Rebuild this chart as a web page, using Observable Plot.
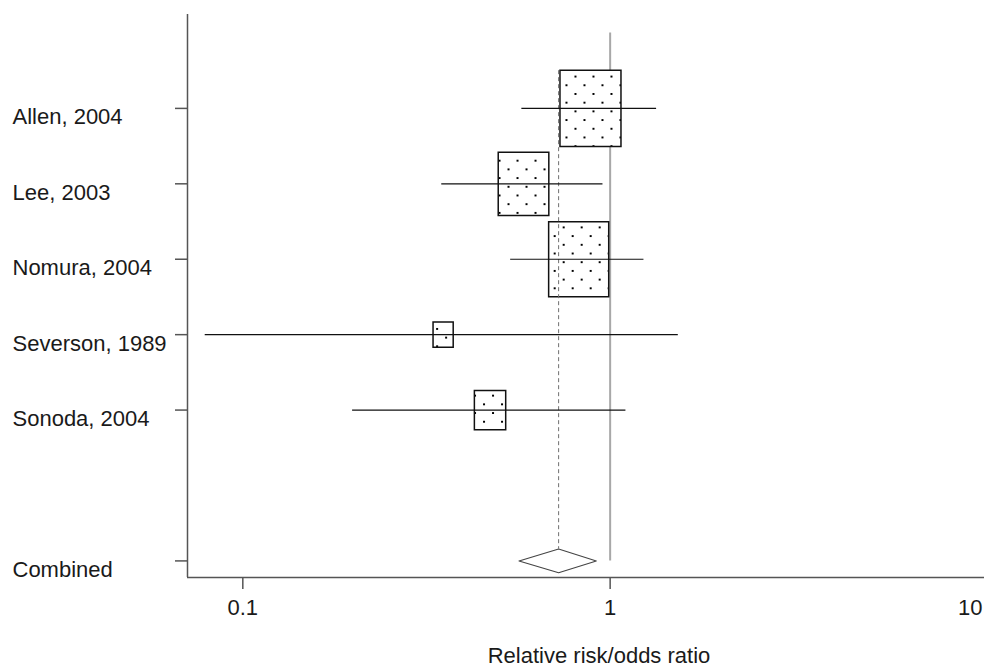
<!DOCTYPE html>
<html>
<head>
<meta charset="utf-8">
<script src="https://cdn.jsdelivr.net/npm/d3@7"></script>
<script src="https://cdn.jsdelivr.net/npm/@observablehq/plot@0.6"></script>
<style>
  html, body { margin: 0; padding: 0; background: #fff; }
  #chart svg { display: block; }
</style>
</head>
<body>
<div id="chart"></div>
<script>
// ---- Data ----
const studies  = ["Allen, 2004", "Lee, 2003", "Nomura, 2004", "Severson, 1989", "Sonoda, 2004"];
const estimate = [0.884, 0.581, 0.821, 0.351, 0.471];
const lower    = [0.575, 0.348, 0.536, 0.079, 0.199];
const upper    = [1.338, 0.956, 1.236, 1.533, 1.104];
const weight   = [33.0, 22.7, 32.0, 3.6, 8.7];   // % weights (box area)

const combinedLabel = "Combined";
const combinedEst = 0.724;
const combinedLo  = 0.565;
const combinedHi  = 0.917;

const xTicks      = [0.1, 1, 10];
const xTickLabels = ["0.1", "1", "10"];
const xTitle      = "Relative risk/odds ratio";

// ---- Derived tables ----
const rows = studies.map((d, i) => i + 1);
const combinedRow = studies.length + 2;
const table = studies.map((s, i) => ({
  study: s, row: rows[i], est: estimate[i], lo: lower[i], hi: upper[i], w: weight[i]
}));
const labelRows = [...table.map(d => ({label: d.study, row: d.row})), {label: combinedLabel, row: combinedRow}];
const tickTable = xTicks.map((v, i) => ({v, label: xTickLabels[i]}));

const dh = 0.157; // diamond half-height (rows)
const diamond = [
  {x: combinedLo, y: combinedRow},
  {x: combinedEst, y: combinedRow - dh},
  {x: combinedHi, y: combinedRow},
  {x: combinedEst, y: combinedRow + dh},
  {x: combinedLo, y: combinedRow}
];

const xDomain = [0.0707, 10.45];
const yDomain = [-0.245, 7.22];

// box symbol: rectangle a bit taller than wide
const boxSymbol = {
  draw(context, size) {
    const s = Math.sqrt(size / Math.PI);
    const h = s * 1.25;
    context.moveTo(-s, -h);
    context.lineTo(s, -h);
    context.lineTo(s, h);
    context.lineTo(-s, h);
    context.closePath();
  }
};

const axisColor = "#555";
const font = "'Liberation Sans', Arial, Helvetica, sans-serif";

const chart = Plot.plot({
  width: 984,
  height: 666,
  marginLeft: 187,
  marginRight: 0,
  marginTop: 14,
  marginBottom: 89,
  x: {type: "log", domain: xDomain},
  y: {domain: yDomain, reverse: true},
  r: {type: "sqrt", domain: [0, d3.max(weight)], range: [0, 30.5]},
  style: {fontFamily: font, fontSize: "22px", color: "#1a1a1a", background: "white", overflow: "visible"},
  marks: [
    // null line at 1
    Plot.ruleX([1], {y1: 0, y2: combinedRow, stroke: "#a8a8a8", strokeWidth: 2}),
    // study boxes
    Plot.dot(table, {x: "est", y: "row", r: "w", symbol: boxSymbol, fill: "url(#dotpat)", stroke: "#111", strokeWidth: 1.5}),
    // overall effect dashed line
    Plot.ruleX([combinedEst], {y1: 0.5, y2: combinedRow - dh, stroke: "#707070", strokeWidth: 1, strokeDasharray: "4,3"}),
    // confidence intervals
    Plot.ruleY(table, {y: "row", x1: "lo", x2: "hi", stroke: "#111", strokeWidth: 1.2}),
    // combined diamond
    Plot.line(diamond, {x: "x", y: "y", fill: "white", stroke: "#444", strokeWidth: 1.1, curve: "linear"}),
    // axes lines
    Plot.ruleX([xDomain[0]], {stroke: axisColor, strokeWidth: 1.5}),
    Plot.ruleY([yDomain[1]], {stroke: axisColor, strokeWidth: 1.5}),
    Plot.axisY([...rows, combinedRow], {tickSize: 12, tickFormat: () => "", stroke: axisColor, strokeWidth: 1.5}),
    Plot.axisX(xTicks.slice(0, 2), {tickSize: 12, tickFormat: () => "", stroke: axisColor, strokeWidth: 1.5}),
    // y labels
    Plot.text(labelRows, {y: "row", text: "label", frameAnchor: "left", textAnchor: "start", lineAnchor: "bottom", dx: -175, dy: 16, fill: "#1a1a1a"}),
    // x tick labels
    Plot.text(tickTable.slice(0, 2), {x: "v", text: "label", frameAnchor: "bottom", lineAnchor: "bottom", dy: 37, fill: "#1a1a1a"}),
    Plot.text(tickTable.slice(2), {x: "v", text: "label", frameAnchor: "bottom", lineAnchor: "bottom", textAnchor: "end", dx: 5, dy: 37, fill: "#1a1a1a"}),
    // x title
    Plot.text([xTitle], {text: d => d, frameAnchor: "bottom", lineAnchor: "bottom", dx: 13, dy: 85, fill: "#1a1a1a"})
  ]
});

// dotted fill pattern for the boxes
const ns = "http://www.w3.org/2000/svg";
const defs = document.createElementNS(ns, "defs");
const pat = document.createElementNS(ns, "pattern");
pat.setAttribute("id", "dotpat");
pat.setAttribute("patternUnits", "userSpaceOnUse");
pat.setAttribute("width", "18");
pat.setAttribute("height", "17.4");
pat.setAttribute("x", "2");
pat.setAttribute("y", "2");
const bg = document.createElementNS(ns, "rect");
bg.setAttribute("width", "18"); bg.setAttribute("height", "17.4"); bg.setAttribute("fill", "white");
pat.appendChild(bg);
[[0, 0, 2.2], [9, 8.7, 2.0]].forEach(([x, y, s]) => {
  const r = document.createElementNS(ns, "rect");
  r.setAttribute("x", x); r.setAttribute("y", y);
  r.setAttribute("width", s); r.setAttribute("height", s);
  r.setAttribute("fill", "#000");
  r.setAttribute("shape-rendering", "crispEdges");
  pat.appendChild(r);
});
defs.appendChild(pat);
chart.insertBefore(defs, chart.firstChild);

document.getElementById("chart").appendChild(chart);
</script>
</body>
</html>
